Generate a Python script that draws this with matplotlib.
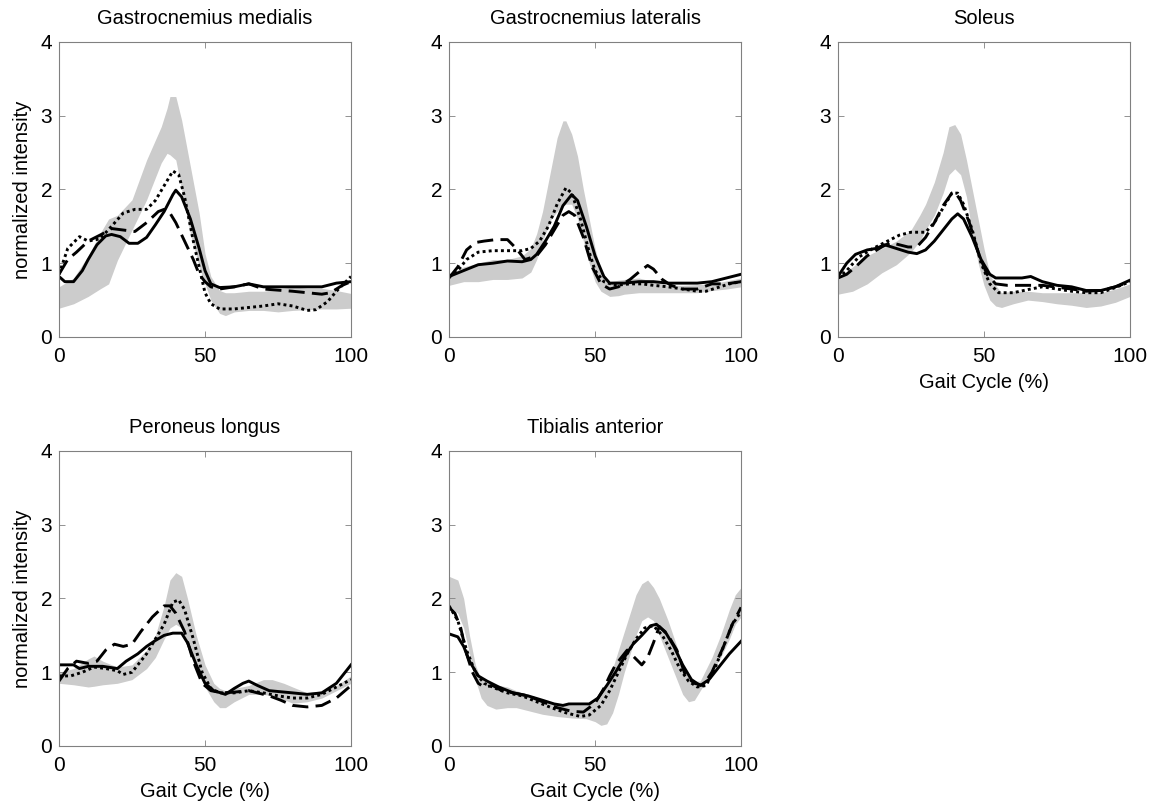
import matplotlib.pyplot as plt

plt.rcParams['font.family'] = ['Liberation Sans', 'DejaVu Sans']

titles = ['Gastrocnemius medialis', 'Gastrocnemius lateralis', 'Soleus',
          'Peroneus longus', 'Tibialis anterior']

# --- Gastrocnemius medialis
gm_band_x = [0, 5, 10, 14, 17, 20, 25, 30, 35, 37, 38, 40, 42, 45, 48, 50, 52, 55, 57, 60, 65, 70, 75, 80, 85, 90, 95, 100]
gm_band_lo = [0.39, 0.45, 0.55, 0.65, 0.72, 1.04, 1.45, 1.86, 2.36, 2.49, 2.47, 2.4, 2.0, 1.4, 0.95, 0.72, 0.5, 0.32, 0.29, 0.34, 0.36, 0.36, 0.34, 0.36, 0.37, 0.38, 0.38, 0.39]
gm_band_hi = [0.68, 0.8, 1.1, 1.4, 1.6, 1.65, 1.86, 2.4, 2.85, 3.1, 3.26, 3.26, 2.94, 2.31, 1.68, 1.13, 0.82, 0.63, 0.6, 0.6, 0.62, 0.62, 0.65, 0.68, 0.66, 0.66, 0.63, 0.59]
gm_solid_x = [0, 2, 5, 8, 10, 13, 16, 18, 21, 24, 27, 30, 33, 36, 39, 40, 42, 45, 48, 50, 52, 55, 60, 65, 70, 80, 90, 95, 100]
gm_solid = [0.82, 0.75, 0.75, 0.9, 1.05, 1.25, 1.37, 1.39, 1.36, 1.27, 1.27, 1.35, 1.52, 1.7, 1.93, 1.99, 1.9, 1.6, 1.2, 0.9, 0.72, 0.67, 0.68, 0.72, 0.68, 0.68, 0.68, 0.73, 0.75]
gm_dash_x = [0, 3, 6, 10, 15, 18, 22, 26, 30, 34, 36, 38, 40, 43, 46, 48, 50, 52, 55, 60, 65, 70, 80, 90, 93, 97, 100]
gm_dash = [0.85, 1.05, 1.15, 1.3, 1.4, 1.47, 1.45, 1.43, 1.55, 1.7, 1.73, 1.68, 1.55, 1.3, 1.05, 0.85, 0.75, 0.68, 0.65, 0.68, 0.72, 0.65, 0.62, 0.58, 0.6, 0.7, 0.75]
gm_dot_x = [0, 3, 7, 10, 14, 18, 22, 26, 30, 33, 36, 39, 41, 43, 46, 48, 50, 52, 55, 60, 70, 75, 80, 85, 88, 92, 95, 100]
gm_dot = [0.85, 1.2, 1.36, 1.3, 1.33, 1.5, 1.68, 1.73, 1.73, 1.85, 2.05, 2.25, 2.2, 1.9, 1.3, 0.95, 0.6, 0.45, 0.38, 0.38, 0.42, 0.45, 0.42, 0.36, 0.37, 0.48, 0.62, 0.82]

# --- Gastrocnemius lateralis
gl_band_x = [0, 5, 10, 15, 20, 25, 28, 30, 32, 35, 37, 39, 40, 42, 44, 46, 48, 50, 52, 55, 58, 60, 65, 70, 75, 80, 85, 90, 95, 100]
gl_band_lo = [0.7, 0.75, 0.75, 0.78, 0.78, 0.8, 0.88, 1.05, 1.3, 1.6, 1.7, 1.78, 1.8, 1.8, 1.6, 1.3, 1.0, 0.75, 0.62, 0.55, 0.56, 0.58, 0.6, 0.6, 0.6, 0.6, 0.6, 0.63, 0.65, 0.68]
gl_band_hi = [0.85, 0.95, 1.0, 1.05, 1.05, 1.1, 1.2, 1.4, 1.7, 2.3, 2.7, 2.93, 2.93, 2.75, 2.45, 2.0, 1.6, 1.2, 0.9, 0.75, 0.77, 0.78, 0.8, 0.75, 0.7, 0.7, 0.71, 0.72, 0.76, 0.8]
gl_solid_x = [0, 5, 10, 15, 20, 25, 28, 30, 33, 36, 39, 42, 44, 47, 50, 53, 55, 60, 65, 70, 75, 80, 85, 90, 95, 100]
gl_solid = [0.82, 0.9, 0.98, 1.0, 1.03, 1.02, 1.05, 1.12, 1.3, 1.5, 1.78, 1.93, 1.85, 1.5, 1.1, 0.82, 0.73, 0.73, 0.75, 0.75, 0.73, 0.73, 0.73, 0.75, 0.8, 0.85]
gl_dash_x = [0, 3, 6, 9, 12, 16, 20, 23, 26, 30, 33, 36, 39, 41, 43, 46, 49, 52, 55, 58, 62, 65, 68, 70, 73, 76, 80, 85, 90, 95, 100]
gl_dash = [0.8, 0.95, 1.18, 1.28, 1.3, 1.32, 1.32, 1.2, 1.05, 1.1, 1.25, 1.45, 1.65, 1.7, 1.65, 1.35, 0.95, 0.72, 0.65, 0.68, 0.78, 0.88, 0.97, 0.92, 0.78, 0.7, 0.65, 0.65, 0.72, 0.72, 0.75]
gl_dot_x = [0, 3, 6, 10, 15, 20, 25, 28, 31, 34, 37, 40, 42, 45, 48, 50, 53, 57, 62, 66, 70, 75, 80, 85, 88, 92, 96, 100]
gl_dot = [0.82, 0.9, 1.05, 1.15, 1.17, 1.17, 1.17, 1.2, 1.3, 1.5, 1.8, 2.02, 1.95, 1.6, 1.15, 0.9, 0.75, 0.7, 0.72, 0.72, 0.7, 0.68, 0.65, 0.62, 0.62, 0.67, 0.72, 0.75]

# --- Soleus
so_band_x = [0, 5, 10, 15, 20, 25, 28, 30, 33, 36, 38, 40, 42, 44, 46, 48, 50, 52, 54, 56, 60, 65, 70, 75, 80, 85, 90, 95, 100]
so_band_lo = [0.58, 0.62, 0.72, 0.87, 0.98, 1.15, 1.3, 1.45, 1.65, 1.95, 2.2, 2.28, 2.2, 1.9, 1.4, 1.0, 0.7, 0.5, 0.42, 0.4, 0.45, 0.5, 0.48, 0.45, 0.43, 0.4, 0.42, 0.47, 0.55]
so_band_hi = [0.8, 0.95, 1.1, 1.2, 1.3, 1.45, 1.65, 1.8, 2.1, 2.5, 2.85, 2.88, 2.75, 2.4, 2.0, 1.6, 1.2, 0.85, 0.7, 0.6, 0.62, 0.62, 0.6, 0.6, 0.6, 0.6, 0.6, 0.65, 0.72]
so_solid_x = [0, 3, 6, 10, 13, 16, 20, 24, 27, 30, 33, 36, 39, 41, 43, 46, 49, 52, 54, 60, 63, 66, 70, 75, 80, 85, 90, 95, 100]
so_solid = [0.82, 1.0, 1.12, 1.18, 1.2, 1.25, 1.2, 1.15, 1.13, 1.18, 1.3, 1.45, 1.6, 1.67, 1.6, 1.35, 1.05, 0.85, 0.8, 0.8, 0.8, 0.82, 0.75, 0.7, 0.68, 0.63, 0.63, 0.68, 0.77]
so_dash_x = [0, 3, 6, 10, 15, 18, 21, 24, 27, 30, 33, 36, 39, 40, 42, 45, 48, 51, 54, 58, 62, 66, 70, 80, 85, 90, 95, 100]
so_dash = [0.8, 0.85, 0.95, 1.1, 1.22, 1.28, 1.25, 1.22, 1.22, 1.35, 1.55, 1.78, 1.95, 1.97, 1.85, 1.55, 1.15, 0.85, 0.72, 0.7, 0.7, 0.7, 0.7, 0.65, 0.62, 0.63, 0.68, 0.75]
so_dot_x = [0, 3, 7, 12, 17, 21, 25, 30, 33, 36, 39, 41, 43, 46, 49, 52, 55, 60, 66, 70, 80, 85, 90, 95, 100]
so_dot = [0.8, 0.9, 1.08, 1.2, 1.3, 1.38, 1.42, 1.42, 1.55, 1.75, 1.95, 1.95, 1.8, 1.45, 1.0, 0.72, 0.6, 0.6, 0.65, 0.68, 0.62, 0.6, 0.6, 0.67, 0.75]

# --- Peroneus longus
pl_band_x = [0, 5, 10, 12, 15, 20, 25, 30, 33, 36, 38, 40, 42, 44, 47, 50, 53, 55, 57, 60, 65, 70, 73, 77, 80, 85, 90, 95, 100]
pl_band_lo = [0.85, 0.83, 0.8, 0.81, 0.83, 0.85, 0.9, 1.05, 1.2, 1.45, 1.6, 1.65, 1.6, 1.4, 1.1, 0.8, 0.6, 0.52, 0.52, 0.6, 0.7, 0.7, 0.68, 0.63, 0.58, 0.6, 0.65, 0.75, 0.85]
pl_band_hi = [1.0, 1.05, 1.18, 1.22, 1.15, 1.07, 1.1, 1.3, 1.5, 1.9, 2.25, 2.35, 2.3, 2.0, 1.5, 1.1, 0.85, 0.78, 0.75, 0.78, 0.82, 0.9, 0.9, 0.85, 0.8, 0.72, 0.75, 0.82, 0.95]
pl_solid_x = [0, 5, 7, 10, 15, 20, 23, 27, 30, 33, 36, 39, 42, 44, 47, 50, 53, 57, 60, 63, 65, 68, 72, 80, 85, 90, 95, 98, 100]
pl_solid = [1.1, 1.1, 1.05, 1.08, 1.08, 1.05, 1.15, 1.25, 1.35, 1.43, 1.5, 1.53, 1.53, 1.4, 1.1, 0.85, 0.75, 0.7, 0.78, 0.85, 0.88, 0.82, 0.75, 0.72, 0.7, 0.72, 0.85, 1.0, 1.1]
pl_dash_x = [0, 3, 6, 10, 13, 16, 19, 22, 25, 28, 32, 36, 38, 40, 43, 46, 49, 52, 56, 60, 65, 68, 72, 76, 80, 85, 90, 95, 100]
pl_dash = [0.88, 1.05, 1.15, 1.12, 1.15, 1.3, 1.38, 1.35, 1.38, 1.55, 1.75, 1.9, 1.9, 1.8, 1.55, 1.15, 0.85, 0.75, 0.72, 0.73, 0.75, 0.72, 0.68, 0.62, 0.55, 0.53, 0.55, 0.65, 0.82]
pl_dot_x = [0, 4, 8, 12, 16, 20, 22, 25, 30, 33, 36, 39, 41, 43, 46, 49, 52, 55, 60, 65, 70, 75, 80, 85, 90, 95, 100]
pl_dot = [0.95, 0.95, 1.0, 1.07, 1.05, 1.02, 0.97, 1.0, 1.25, 1.45, 1.65, 1.95, 1.98, 1.85, 1.45, 1.0, 0.78, 0.72, 0.72, 0.75, 0.72, 0.68, 0.65, 0.65, 0.7, 0.8, 0.9]

# --- Tibialis anterior
ta_band_x = [0, 3, 5, 7, 9, 11, 13, 16, 20, 23, 27, 32, 37, 42, 47, 50, 52, 54, 56, 58, 60, 62, 64, 66, 68, 70, 72, 75, 78, 80, 82, 84, 86, 90, 93, 96, 98, 100]
ta_band_lo = [1.9, 1.8, 1.6, 1.25, 0.9, 0.65, 0.55, 0.5, 0.52, 0.52, 0.48, 0.43, 0.4, 0.38, 0.37, 0.33, 0.28, 0.3, 0.45, 0.7, 1.0, 1.25, 1.5, 1.7, 1.75, 1.7, 1.5, 1.2, 0.9, 0.7, 0.6, 0.62, 0.75, 1.0, 1.2, 1.45, 1.65, 1.75]
ta_band_hi = [2.3, 2.25, 2.0, 1.5, 1.1, 0.9, 0.86, 0.83, 0.8, 0.75, 0.7, 0.62, 0.58, 0.55, 0.55, 0.6, 0.72, 0.85, 1.05, 1.3, 1.55, 1.8, 2.05, 2.2, 2.25, 2.15, 2.0, 1.7, 1.35, 1.1, 0.95, 0.88, 0.88, 1.2, 1.5, 1.85, 2.05, 2.15]
ta_solid_x = [0, 3, 5, 7, 10, 13, 17, 22, 27, 32, 36, 39, 41, 45, 48, 51, 54, 57, 60, 63, 66, 69, 71, 74, 77, 80, 83, 86, 89, 92, 96, 100]
ta_solid = [1.52, 1.48, 1.35, 1.15, 0.95, 0.88, 0.8, 0.72, 0.68, 0.62, 0.57, 0.55, 0.57, 0.57, 0.57, 0.65, 0.82, 1.0, 1.2, 1.38, 1.5, 1.63, 1.65, 1.55, 1.35, 1.1, 0.9, 0.82, 0.9, 1.05, 1.25, 1.42]
ta_dash_x = [0, 2, 4, 6, 8, 10, 12, 15, 18, 22, 27, 32, 37, 42, 46, 50, 53, 55, 57, 59, 61, 63, 66, 68, 70, 72, 75, 78, 81, 84, 87, 90, 94, 97, 100]
ta_dash = [1.88, 1.8, 1.6, 1.25, 1.0, 0.85, 0.8, 0.82, 0.75, 0.72, 0.68, 0.6, 0.52, 0.47, 0.46, 0.58, 0.78, 0.95, 1.1, 1.2, 1.3, 1.22, 1.1, 1.2, 1.4, 1.62, 1.5, 1.3, 0.95, 0.85, 0.82, 1.0, 1.35, 1.65, 1.88]
ta_dot_x = [0, 3, 6, 9, 12, 16, 20, 25, 30, 35, 40, 45, 48, 52, 55, 58, 61, 64, 67, 70, 73, 76, 79, 82, 85, 88, 91, 94, 97, 100]
ta_dot = [1.9, 1.7, 1.3, 1.0, 0.85, 0.78, 0.72, 0.68, 0.6, 0.52, 0.45, 0.4, 0.42, 0.55, 0.75, 1.0, 1.25, 1.45, 1.6, 1.63, 1.5, 1.3, 1.05, 0.88, 0.8, 0.82, 1.05, 1.35, 1.65, 1.82]

panels = [
    (gm_band_x, gm_band_lo, gm_band_hi, gm_solid_x, gm_solid, gm_dash_x, gm_dash, gm_dot_x, gm_dot),
    (gl_band_x, gl_band_lo, gl_band_hi, gl_solid_x, gl_solid, gl_dash_x, gl_dash, gl_dot_x, gl_dot),
    (so_band_x, so_band_lo, so_band_hi, so_solid_x, so_solid, so_dash_x, so_dash, so_dot_x, so_dot),
    (pl_band_x, pl_band_lo, pl_band_hi, pl_solid_x, pl_solid, pl_dash_x, pl_dash, pl_dot_x, pl_dot),
    (ta_band_x, ta_band_lo, ta_band_hi, ta_solid_x, ta_solid, ta_dash_x, ta_dash, ta_dot_x, ta_dot),
]

fig = plt.figure(figsize=(11.52, 8.05), dpi=100)
lefts = [0.0512, 0.3898, 0.7274, 0.0512, 0.3898]
bottoms = [0.5814, 0.5814, 0.5814, 0.0733, 0.0733]
w, h = 0.2535, 0.3665

for i, (bx, lo, hi, sx, sy, dx, dy, px, py) in enumerate(panels):
    ax = fig.add_axes([lefts[i], bottoms[i], w, h])
    ax.fill_between(bx, lo, hi, color='#cccccc', linewidth=0)
    ax.plot(sx, sy, color='black', linewidth=2.1, linestyle='-')
    ax.plot(dx, dy, color='black', linewidth=2.1, linestyle=(0, (5.5, 2.5)))
    ax.plot(px, py, color='black', linewidth=2.1, linestyle=(0, (1, 1.1)))
    ax.set_xlim(0, 100)
    ax.set_ylim(0, 4)
    ax.set_xticks([0, 50, 100])
    ax.set_yticks([0, 1, 2, 3, 4])
    ax.tick_params(direction='in', top=True, right=True, length=4, width=0.6,
                   color='#808080', labelsize=15, pad=5)
    ax.tick_params(axis='x', pad=7)
    for s in ax.spines.values():
        s.set_color('#808080')
        s.set_linewidth(0.8)
    ax.set_title(titles[i], fontsize=14.5, pad=13)
    if i in (0, 3):
        ax.set_ylabel('normalized intensity', fontsize=14.5, labelpad=6)
    if i in (2, 3, 4):
        ax.set_xlabel('Gait Cycle (%)', fontsize=14.5, labelpad=5)

fig.savefig('out.png', dpi=100)
